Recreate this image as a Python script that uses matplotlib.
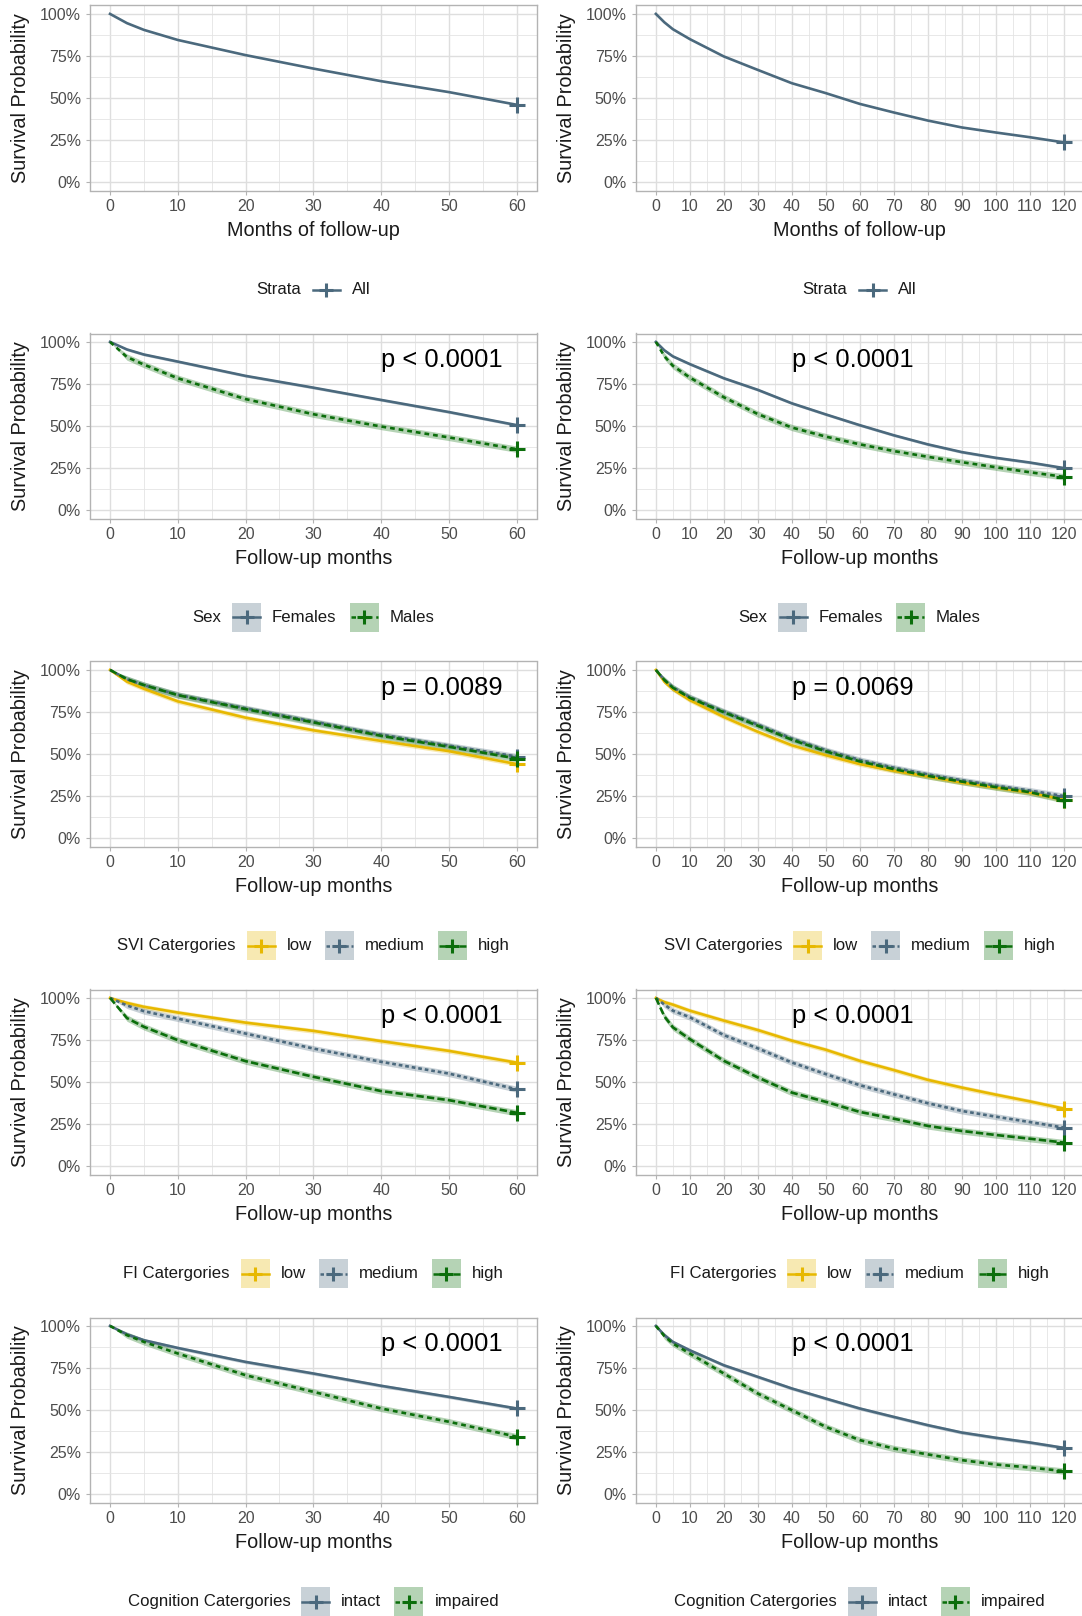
import matplotlib
matplotlib.use("Agg")
import matplotlib.pyplot as plt
from matplotlib.patches import Rectangle
from matplotlib.lines import Line2D

plt.rcParams["font.family"] = ["Liberation Sans", "DejaVu Sans"]

# survival (%) at these months
months_60 = [0, 2.5, 5, 10, 20, 30, 40, 50, 60]
months_120 = [0, 2.5, 5, 10, 20, 30, 40, 50, 60, 70, 80, 90, 100, 110, 120]

all_60 = [100, 94.5, 90.5, 84.5, 75.5, 67.5, 60, 53.5, 46]
all_120 = [100, 95, 90.9, 85, 74.7, 66.7, 58.8, 52.9, 46.5, 41.4, 36.6, 32.5, 29.5, 26.7, 23.6]

females_60 = [100, 95.5, 92.5, 88.3, 79.8, 72.8, 65.5, 58.3, 50.5]
males_60 = [100, 91, 86.5, 78.4, 66, 57, 49.7, 43.2, 36.2]
females_120 = [100, 95, 91.4, 86.8, 78.4, 71.5, 63.5, 56.9, 50.5, 44.5, 39.1, 34.5, 31.1, 28.3, 25]
males_120 = [100, 91.5, 85.8, 78.8, 67.1, 57.1, 49.1, 43.7, 39.1, 35.1, 31.7, 28.5, 25.5, 22.5, 19.8]

svi_low_60 = [100, 93, 88.8, 81.3, 71.6, 64.1, 57.8, 51.7, 44]
svi_medium_60 = [100, 94.5, 91, 85.2, 77.2, 69.3, 61.5, 55, 48.5]
svi_high_60 = [100, 94.5, 91, 85, 76.7, 68.8, 60.8, 54.3, 47.3]
svi_low_120 = [100, 93, 88.5, 82, 72, 63.2, 55.2, 49.3, 44, 40, 36.6, 33, 30, 27, 22.8]
svi_medium_120 = [100, 94, 89.6, 83.8, 75.3, 67.5, 59.2, 52.3, 46.5, 41.9, 37.9, 34.4, 31.2, 28.3, 25]
svi_high_120 = [100, 94, 89.4, 83.4, 74.8, 66.8, 58.5, 51.6, 45.6, 41, 37, 33.6, 30.3, 27.3, 22.8]

fi_low_60 = [100, 97, 94.7, 91.3, 85.3, 80.4, 74.3, 68.5, 61.5]
fi_medium_60 = [100, 95.5, 92.1, 87.7, 78.8, 69.9, 62, 55, 45.7]
fi_high_60 = [100, 88, 82.8, 74.9, 62.4, 53.1, 44.6, 39.2, 31.7]
fi_low_120 = [100, 97.5, 96, 92.4, 86.5, 80.9, 74.6, 69.2, 62.6, 57.1, 51.3, 46.7, 42.5, 38.5, 34.2]
fi_medium_120 = [100, 96, 92.4, 88.5, 77.9, 70, 61.6, 54.7, 48.1, 42.7, 37.4, 32.8, 29.4, 26.2, 22.9]
fi_high_120 = [100, 89, 82.5, 75.5, 62.6, 52.7, 43.7, 38.2, 32.2, 28.2, 23.9, 20.9, 18.5, 16.3, 14]

intact_60 = [100, 95, 91.5, 86.9, 78.6, 71.7, 64.4, 57.8, 50.9]
impaired_60 = [100, 94.5, 90.5, 83.6, 70.7, 60.8, 50.9, 43, 34.1]
intact_120 = [100, 94.5, 90.5, 85.5, 76.6, 69.7, 62.8, 56.8, 50.9, 45.9, 41, 36.6, 33.5, 30.7, 27.5]
impaired_120 = [100, 94, 89.5, 83.6, 71.7, 59.8, 49.9, 40, 32.1, 27.1, 23.6, 20.2, 17.6, 15.8, 13.7]

# approximate half width of the confidence band (percentage points)
band_halfwidth = {"All": 0.0, "Females": 0.8, "Males": 1.9, "low": 1.4, "medium": 1.8,
                  "high": 1.9, "intact": 1.0, "impaired": 1.9}

legend_titles = ["Strata", "Sex", "SVI Catergories", "FI Catergories", "Cognition Catergories"]
strata_labels = [["All"], ["Females", "Males"], ["low", "medium", "high"],
                 ["low", "medium", "high"], ["intact", "impaired"]]
curves_60 = [[all_60], [females_60, males_60], [svi_low_60, svi_medium_60, svi_high_60],
             [fi_low_60, fi_medium_60, fi_high_60], [intact_60, impaired_60]]
curves_120 = [[all_120], [females_120, males_120], [svi_low_120, svi_medium_120, svi_high_120],
              [fi_low_120, fi_medium_120, fi_high_120], [intact_120, impaired_120]]
pvalues_60 = [None, "p < 0.0001", "p = 0.0089", "p < 0.0001", "p < 0.0001"]
pvalues_120 = [None, "p < 0.0001", "p = 0.0069", "p < 0.0001", "p < 0.0001"]
xlabels = ["Months of follow-up", "Follow-up months", "Follow-up months",
           "Follow-up months", "Follow-up months"]

blue_grey = "#4B697D"
yellow = "#E7B800"
green = "#0B6E0B"
styles = {
    "All": (blue_grey, "-"),
    "Females": (blue_grey, "-"),
    "Males": (green, (0, (1.8, 1.5))),
    "low": (yellow, "-"),
    "medium": (blue_grey, (0, (1.4, 1.1))),
    "high": (green, (0, (2.8, 1.2))),
    "intact": (blue_grey, "-"),
    "impaired": (green, (0, (1.8, 1.5))),
}

W, H = 1082, 1616
fig = plt.figure(figsize=(W / 100, H / 100), dpi=100)

row_top0, row_step, row_h = 5.5, 328, 185
columns = [(89.7, 537.0, 60, months_60, curves_60, pvalues_60),
           (635.5, 1084.0, 120, months_120, curves_120, pvalues_120)]


def add_axes_px(left, top, right, bottom):
    return fig.add_axes([left / W, 1 - bottom / H, (right - left) / W, (bottom - top) / H])


def style_axis(ax, xmax, width_px, xlabel):
    ax.set_xlim(-0.05 * xmax, 1.05 * xmax)
    ax.set_ylim(-5, 105)
    ax.set_xticks(range(0, xmax + 1, 10))
    ax.set_xticks(range(5, xmax, 10), minor=True)
    ax.set_yticks([0, 25, 50, 75, 100])
    ax.set_yticklabels(["0%", "25%", "50%", "75%", "100%"])
    ax.set_yticks([12.5, 37.5, 62.5, 87.5], minor=True)
    ax.grid(which="major", color="#DEDEDE", lw=1.0)
    ax.grid(which="minor", color="#E4E4E4", lw=0.6)
    ax.set_axisbelow(True)
    for s in ax.spines.values():
        s.set_color("#B3B3B3")
        s.set_linewidth(1.0)
    ax.tick_params(which="major", length=2.7, width=0.8, color="#B3B3B3",
                   labelcolor="#4D4D4D", labelsize=11.5, pad=3.5)
    ax.tick_params(which="minor", length=0)
    ax.set_xlabel(xlabel, fontsize=14.3, color="#1A1A1A")
    ax.xaxis.set_label_coords(0.5, -40 / row_h)
    ax.xaxis.label.set_va("center")
    ax.set_ylabel("Survival Probability", fontsize=14.3, color="#1A1A1A")
    ax.yaxis.set_label_coords(-69 / width_px, 0.5)
    ax.yaxis.label.set_va("center")


renderer = fig.canvas.get_renderer()


def text_width(s, size):
    t = fig.text(0, 0, s, fontsize=size)
    w = t.get_window_extent(renderer=renderer).width
    t.remove()
    return w


def draw_legend(cx, cy, title, labels, boxed):
    size = 12.1
    box = 29
    widths = [text_width(lab, size) for lab in labels]
    title_w = text_width(title, size)
    total = title_w + 11 + sum(box + 11 + w for w in widths) + 13 * (len(labels) - 1)
    x = cx - total / 2
    fy = 1 - cy / H
    fig.text(x / W, fy, title, fontsize=size, ha="left", va="center", color="#1A1A1A")
    x += title_w + 11
    for lab, w in zip(labels, widths):
        color, ls = styles[lab]
        if boxed:
            fig.add_artist(Rectangle((x / W, 1 - (cy + box / 2) / H), box / W, box / H,
                                     transform=fig.transFigure, facecolor=color,
                                     alpha=0.3, edgecolor="none"))
        fig.add_artist(Line2D([(x + 1) / W, (x + box - 1) / W], [fy, fy],
                              transform=fig.transFigure, color=color, lw=1.8, ls=ls))
        fig.add_artist(Line2D([(x + box / 2) / W], [fy], transform=fig.transFigure,
                              marker="+", ms=10, mew=2.2, color=color, ls="none"))
        x += box + 11
        fig.text(x / W, fy, lab, fontsize=size, ha="left", va="center", color="#1A1A1A")
        x += w + 13


for r in range(5):
    top = row_top0 + r * row_step
    bottom = top + row_h
    labels = strata_labels[r]
    for left, right, xmax, months, curves, pvalues in columns:
        ax = add_axes_px(left, top, right, bottom)
        style_axis(ax, xmax, right - left, xlabels[r])
        for lab, surv in zip(labels, curves[r]):
            color, ls = styles[lab]
            h = band_halfwidth[lab]
            if h > 0:
                lo = [v if i == 0 else max(0, v - h) for i, v in enumerate(surv)]
                hi = [v if i == 0 else min(100, v + h) for i, v in enumerate(surv)]
                ax.fill_between(months, lo, hi, color=color, alpha=0.3, lw=0)
        for lab, surv in zip(labels, curves[r]):
            color, ls = styles[lab]
            ax.plot(months, surv, color=color, lw=1.9, ls=ls)
            ax.plot(months[-1], surv[-1], marker="+", ms=11, mew=2.2, color=color,
                    ls="none", clip_on=False)
        if pvalues[r]:
            ax.text(40, 85, pvalues[r], fontsize=18.4, ha="left", va="baseline",
                    color="black")
        draw_legend((left + right) / 2, top + 284, legend_titles[r], labels, r > 0)

fig.savefig("out.png", dpi=100)
